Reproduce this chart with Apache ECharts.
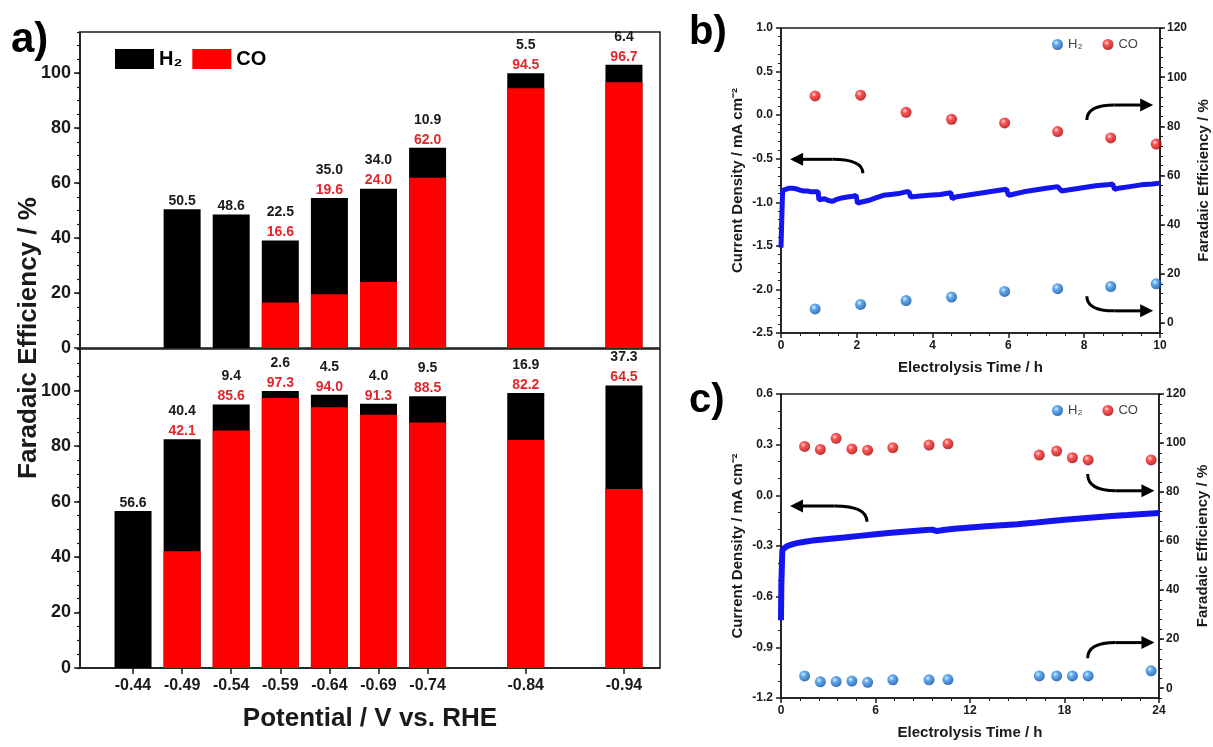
<!DOCTYPE html>
<html><head><meta charset="utf-8">
<script src="https://cdn.jsdelivr.net/npm/echarts@6/dist/echarts.min.js"></script>
<style>html,body{margin:0;padding:0;background:#fff}#c{width:1213px;height:747px}</style>
</head><body><div id="c"></div>
<script>
// ---------- Panel a data ----------
const potentialTicks = [-0.44, -0.49, -0.54, -0.59, -0.64, -0.69, -0.74, -0.84, -0.94];
const topPotential = [-0.49, -0.54, -0.59, -0.64, -0.69, -0.74, -0.84, -0.94];
const topCO = [0, 0, 16.6, 19.6, 24.0, 62.0, 94.5, 96.7];
const topH2 = [50.5, 48.6, 22.5, 35.0, 34.0, 10.9, 5.5, 6.4];
const botPotential = [-0.44, -0.49, -0.54, -0.59, -0.64, -0.69, -0.74, -0.84, -0.94];
const botCO = [0, 42.1, 85.6, 97.3, 94.0, 91.3, 88.5, 82.2, 64.5];
const botH2 = [56.6, 40.4, 9.4, 2.6, 4.5, 4.0, 9.5, 16.9, 37.3];
const feTicksA = [0, 20, 40, 60, 80, 100];
const feTicksBC = [0, 20, 40, 60, 80, 100, 120];

// ---------- Panel b data ----------
const bTime = [0, 0.02, 0.04, 0.06, 0.1, 0.2, 0.3, 0.4, 0.5, 0.6, 0.7, 0.8, 0.9, 0.98, 1.0, 1.05, 1.15, 1.25, 1.35, 1.45, 1.6, 1.75, 1.9, 1.98, 2.02, 2.1, 2.3, 2.5, 2.7, 2.9, 3.1, 3.3, 3.38, 3.42, 3.6, 3.9, 4.2, 4.48, 4.52, 4.6, 4.9, 5.2, 5.5, 5.8, 5.95, 6.0, 6.1, 6.4, 6.7, 7.0, 7.3, 7.35, 7.4, 7.7, 8.0, 8.3, 8.6, 8.75, 8.8, 8.9, 9.2, 9.5, 9.8, 10];
const bCurrent = [-1.52, -1.2, -0.9, -0.86, -0.86, -0.84, -0.84, -0.845, -0.86, -0.87, -0.87, -0.88, -0.88, -0.88, -0.97, -0.95, -0.96, -0.98, -0.99, -0.97, -0.95, -0.94, -0.93, -0.92, -1.01, -1.0, -0.98, -0.95, -0.92, -0.91, -0.9, -0.88, -0.88, -0.94, -0.93, -0.92, -0.91, -0.89, -0.96, -0.94, -0.92, -0.9, -0.88, -0.86, -0.85, -0.92, -0.91, -0.88, -0.86, -0.84, -0.82, -0.81, -0.87, -0.85, -0.83, -0.81, -0.8, -0.79, -0.85, -0.84, -0.82, -0.8, -0.79, -0.78];
const bFETime = [0.9, 2.1, 3.3, 4.5, 5.9, 7.3, 8.7, 9.9];
const bFE_CO = [92.4, 92.7, 85.7, 82.9, 81.4, 77.9, 75.3, 72.8];
const bFE_H2 = [5.8, 7.6, 9.2, 10.6, 12.9, 14.0, 14.9, 16.0];

// ---------- Panel c data ----------
const cTime = [0, 0.02, 0.04, 0.06, 0.08, 0.1, 0.2, 0.4, 0.7, 1, 1.5, 2, 3, 4, 5, 6, 7, 8, 9, 9.6, 9.9, 10.3, 11, 12, 13, 14, 15, 16, 17, 18, 19, 20, 21, 22, 23, 24];
const cCurrent = [-0.74, -0.54, -0.47, -0.40, -0.34, -0.32, -0.31, -0.30, -0.29, -0.283, -0.275, -0.268, -0.258, -0.25, -0.24, -0.23, -0.222, -0.214, -0.207, -0.203, -0.212, -0.205, -0.198, -0.19, -0.183, -0.177, -0.171, -0.163, -0.153, -0.144, -0.137, -0.13, -0.123, -0.117, -0.11, -0.104];
const cFETime = [1.5, 2.5, 3.5, 4.5, 5.5, 7.1, 9.4, 10.6, 16.4, 17.5, 18.5, 19.5, 23.5];
const cFE_CO = [98.6, 97.4, 101.9, 97.6, 97.1, 98.1, 99.2, 99.7, 95.1, 96.7, 94.0, 93.1, 93.1];
const cFE_H2 = [5.0, 2.6, 2.7, 2.9, 2.4, 3.4, 3.4, 3.5, 5.0, 5.0, 5.0, 5.0, 7.1];

// arrows (start point, tip) in [time, current density] of each panel
const bArrows = [[[2.16, -0.668], [0.24, -0.507]], [[8.07, -0.056], [9.82, 0.116]], [[8.07, -2.077], [9.82, -2.246]]];
const cArrows = [[[5.46, -0.156], [0.57, -0.063]], [[19.47, 0.126], [23.71, 0.027]], [[19.47, -0.965], [23.71, -0.872]]];

const FONT = "'Liberation Sans', Arial, sans-serif";
const INK = '#1a1a1a';
const RED = '#ff0000';
const REDTXT = '#e3262b';

const pairs = (xs, ys) => xs.map((x, i) => [x, ys[i]]);
// stacked top of each bar (CO at the bottom, H2 on top of it)
const totals = (a, b) => a.map((v, i) => +(v + b[i]).toFixed(2));

function ball(c0, c1, c2) {
  return { type: 'radial', x: 0.38, y: 0.35, r: 0.65,
    colorStops: [{ offset: 0, color: c0 }, { offset: 0.35, color: c1 }, { offset: 1, color: c2 }] };
}
const blueBall = ball('#d6ecff', '#3a96ec', '#0b4ea6');
const redBall = ball('#ffd8d8', '#ff2b2b', '#a80000');

function barLabel(H, C) {
  return {
    show: true, position: 'top', distance: -2,
    formatter: p => {
      const i = p.dataIndex;
      return C[i] > 0 ? '{k|' + H[i].toFixed(1) + '}\n{r|' + C[i].toFixed(1) + '}' : '{k|' + H[i].toFixed(1) + '}';
    },
    rich: {
      k: { color: INK, fontWeight: 'bold', fontSize: 14, lineHeight: 20, fontFamily: FONT },
      r: { color: REDTXT, fontWeight: 'bold', fontSize: 14, lineHeight: 20, fontFamily: FONT }
    }
  };
}

const axisLineStyle = { color: INK, width: 1.5 };

function feAxisA(grid) {
  return [{
    type: 'value', gridIndex: grid, position: 'left', min: 0, max: 115, interval: 20,
    axisLine: { show: true, onZero: false, lineStyle: axisLineStyle },
    axisTick: { show: true, length: 6, customValues: feTicksA, lineStyle: axisLineStyle },
    axisLabel: { customValues: feTicksA, fontSize: 18, fontWeight: 'bold', color: INK, fontFamily: FONT, margin: 9 },
    splitLine: { show: false }
  }, {
    type: 'value', gridIndex: grid, position: 'left', min: 0, max: 115, interval: 5,
    axisLine: { show: false, onZero: false }, axisLabel: { show: false }, splitLine: { show: false },
    axisTick: { show: true, length: 3, lineStyle: { color: INK, width: 1.2 } }
  }];
}

function feAxisRight(grid, name) {
  return [{
    type: 'value', gridIndex: grid, position: 'right', min: -4, max: 120, interval: 20,
    name: name, nameLocation: 'middle', nameRotate: 90, nameGap: 36,
    nameTextStyle: { fontSize: 15, fontWeight: 'bold', color: INK, fontFamily: FONT },
    axisLine: { show: true, onZero: false, lineStyle: axisLineStyle },
    axisTick: { show: true, length: 5, customValues: feTicksBC, lineStyle: axisLineStyle },
    axisLabel: { customValues: feTicksBC, fontSize: 12, fontWeight: 'bold', color: INK, fontFamily: FONT, margin: 7 },
    splitLine: { show: false }
  }, {
    type: 'value', gridIndex: grid, position: 'right', min: -4, max: 120, interval: 4,
    axisLine: { show: false, onZero: false }, axisLabel: { show: false }, splitLine: { show: false },
    axisTick: { show: true, length: 3, lineStyle: { color: INK, width: 1 } }
  }];
}

function timeAxis(grid, max, interval, minorSplit) {
  return {
    type: 'value', gridIndex: grid, position: 'bottom', min: 0, max: max, interval: interval,
    name: 'Electrolysis Time / h', nameLocation: 'middle', nameGap: 27,
    nameTextStyle: { fontSize: 15, fontWeight: 'bold', color: INK, fontFamily: FONT },
    axisLine: { show: true, onZero: false, lineStyle: axisLineStyle },
    axisTick: { show: true, length: 5, lineStyle: axisLineStyle },
    minorTick: { show: true, splitNumber: minorSplit, length: 3, lineStyle: { color: INK, width: 1 } },
    axisLabel: { fontSize: 12, fontWeight: 'bold', color: INK, fontFamily: FONT, margin: 7 },
    splitLine: { show: false }
  };
}

function currentAxis(grid, min, max, interval, minorSplit, dec) {
  return {
    type: 'value', gridIndex: grid, position: 'left', min: min, max: max, interval: interval,
    name: 'Current Density / mA cm\u207B\u00B2', nameLocation: 'middle', nameRotate: 90, nameGap: 36,
    nameTextStyle: { fontSize: 15, fontWeight: 'bold', color: INK, fontFamily: FONT },
    axisLine: { show: true, onZero: false, lineStyle: axisLineStyle },
    axisTick: { show: true, length: 5, lineStyle: axisLineStyle },
    minorTick: { show: true, splitNumber: minorSplit, length: 3, lineStyle: { color: INK, width: 1 } },
    axisLabel: { fontSize: 12, fontWeight: 'bold', color: INK, fontFamily: FONT, margin: 8, formatter: v => v.toFixed(dec) },
    splitLine: { show: false }
  };
}

const gridStyle = { show: true, borderColor: INK, borderWidth: 1.5, backgroundColor: 'transparent' };

const option = {
  animation: false,
  backgroundColor: '#fff',
  title: [
    { text: 'a)', left: 6, top: 14, textStyle: { fontSize: 42, fontWeight: 'bold', color: '#000', fontFamily: FONT } },
    { text: 'b)', left: 684, top: 8, textStyle: { fontSize: 40, fontWeight: 'bold', color: '#000', fontFamily: FONT } },
    { text: 'c)', left: 684, top: 376, textStyle: { fontSize: 40, fontWeight: 'bold', color: '#000', fontFamily: FONT } }
  ],
  legend: [
    { data: ['H₂', 'CO'], left: 115, top: 49, icon: 'rect', itemWidth: 39, itemHeight: 20, itemGap: 10, padding: 0,
      textStyle: { fontSize: 20, fontWeight: 'bold', color: '#000', fontFamily: FONT } },
    { data: ['H₂ ', 'CO '], left: 1052, top: 38, icon: 'circle', itemWidth: 11, itemHeight: 11, itemGap: 20, padding: 0,
      formatter: n => n.trim(), textStyle: { fontSize: 13, color: '#444', fontFamily: FONT } },
    { data: ['H₂  ', 'CO  '], left: 1052, top: 404, icon: 'circle', itemWidth: 11, itemHeight: 11, itemGap: 20, padding: 0,
      formatter: n => n.trim(), textStyle: { fontSize: 13, color: '#444', fontFamily: FONT } }
  ],
  grid: [
    Object.assign({ left: 80, top: 32, width: 580, height: 316 }, gridStyle),
    Object.assign({ left: 80, top: 349, width: 580, height: 319 }, gridStyle),
    Object.assign({ left: 781, top: 28, width: 379, height: 305 }, gridStyle),
    Object.assign({ left: 781, top: 394, width: 378, height: 304 }, gridStyle)
  ],
  xAxis: [
    { type: 'value', gridIndex: 0, inverse: true, min: -0.9767, max: -0.386,
      axisLine: { show: false, onZero: false }, axisTick: { show: false }, axisLabel: { show: false }, splitLine: { show: false } },
    { type: 'value', gridIndex: 1, inverse: true, min: -0.9767, max: -0.386,
      name: 'Potential / V vs. RHE', nameLocation: 'middle', nameGap: 38,
      nameTextStyle: { fontSize: 26, fontWeight: 'bold', color: INK, fontFamily: FONT },
      axisLine: { show: true, onZero: false, lineStyle: axisLineStyle },
      axisTick: { show: true, length: 6, customValues: potentialTicks, lineStyle: axisLineStyle },
      axisLabel: { customValues: potentialTicks, formatter: v => v.toFixed(2), fontSize: 16, fontWeight: 'bold', color: INK, fontFamily: FONT, margin: 10 },
      splitLine: { show: false } },
    timeAxis(2, 10, 2, 4),
    timeAxis(3, 24, 6, 5)
  ],
  yAxis: [].concat(
    feAxisA(0),                                   // 0,1
    feAxisA(1),                                   // 2,3
    [currentAxis(2, -2.5, 1.0, 0.5, 5, 1)],       // 4
    feAxisRight(2, 'Faradaic Efficiency / %'),     // 5,6
    [currentAxis(3, -1.2, 0.6, 0.3, 3, 1)],       // 7
    feAxisRight(3, 'Faradaic Efficiency / %')      // 8,9
  ),
  graphic: [],
  series: [
    // H2 drawn as the full stacked height (CO + H2), CO drawn over its lower part
    { name: 'H₂', type: 'bar', xAxisIndex: 0, yAxisIndex: 0, barWidth: 37, barGap: '-100%', z: 2,
      itemStyle: { color: '#000' }, label: barLabel(topH2, topCO), data: pairs(topPotential, totals(topCO, topH2)) },
    { name: 'CO', type: 'bar', xAxisIndex: 0, yAxisIndex: 0, barWidth: 37, barGap: '-100%', z: 3,
      itemStyle: { color: RED }, data: pairs(topPotential, topCO) },
    { name: 'H₂', type: 'bar', xAxisIndex: 1, yAxisIndex: 2, barWidth: 37, barGap: '-100%', z: 2,
      itemStyle: { color: '#000' }, label: barLabel(botH2, botCO), data: pairs(botPotential, totals(botCO, botH2)) },
    { name: 'CO', type: 'bar', xAxisIndex: 1, yAxisIndex: 2, barWidth: 37, barGap: '-100%', z: 3,
      itemStyle: { color: RED }, data: pairs(botPotential, botCO) },

    { name: 'current b', type: 'line', xAxisIndex: 2, yAxisIndex: 4, showSymbol: false,
      lineStyle: { color: '#1414ee', width: 5 }, itemStyle: { color: '#1414ee' }, data: pairs(bTime, bCurrent) },
    { name: 'H₂ ', type: 'scatter', xAxisIndex: 2, yAxisIndex: 5, symbolSize: 11,
      itemStyle: { color: blueBall }, data: pairs(bFETime, bFE_H2) },
    { name: 'CO ', type: 'scatter', xAxisIndex: 2, yAxisIndex: 5, symbolSize: 11,
      itemStyle: { color: redBall }, data: pairs(bFETime, bFE_CO) },

    { name: 'current c', type: 'line', xAxisIndex: 3, yAxisIndex: 7, showSymbol: false,
      lineStyle: { color: '#1414ee', width: 6 }, itemStyle: { color: '#1414ee' }, data: pairs(cTime, cCurrent) },
    { name: 'H₂  ', type: 'scatter', xAxisIndex: 3, yAxisIndex: 8, symbolSize: 11,
      itemStyle: { color: blueBall }, data: pairs(cFETime, cFE_H2) },
    { name: 'CO  ', type: 'scatter', xAxisIndex: 3, yAxisIndex: 8, symbolSize: 11,
      itemStyle: { color: redBall }, data: pairs(cFETime, cFE_CO) }
  ]
};

const chart = echarts.init(document.getElementById('c'), null, { renderer: 'canvas' });
chart.setOption(option);

// annotations: arrows anchored to the data coordinates, y-axis title of panel a
function arrowGraphics(defs, xIdx, yIdx) {
  const out = [];
  defs.forEach(d => {
    const s = chart.convertToPixel({ xAxisIndex: xIdx, yAxisIndex: yIdx }, d[0]);
    const t = chart.convertToPixel({ xAxisIndex: xIdx, yAxisIndex: yIdx }, d[1]);
    const dir = t[0] > s[0] ? 1 : -1;
    const mx = s[0] + (t[0] - s[0]) * 0.42;
    const head = 13;
    out.push({ type: 'bezierCurve', silent: true,
      shape: { x1: s[0], y1: s[1], cpx1: s[0], cpy1: t[1], x2: mx, y2: t[1] },
      style: { stroke: '#000', lineWidth: 3, fill: null } });
    out.push({ type: 'line', silent: true,
      shape: { x1: mx, y1: t[1], x2: t[0] - dir * head + dir * 1, y2: t[1] },
      style: { stroke: '#000', lineWidth: 3 } });
    out.push({ type: 'polygon', silent: true,
      shape: { points: [[t[0], t[1]], [t[0] - dir * head, t[1] - 6.5], [t[0] - dir * head, t[1] + 6.5]] },
      style: { fill: '#000' } });
  });
  return out;
}

const g = [].concat(arrowGraphics(bArrows, 2, 4), arrowGraphics(cArrows, 3, 7));
g.push({ type: 'text', x: 29, y: 338, rotation: Math.PI / 2, silent: true,
  style: { text: 'Faradaic Efficiency / %', fontSize: 26, fontWeight: 'bold', fontFamily: FONT, fill: INK, align: 'center', verticalAlign: 'middle' } });
chart.setOption({ graphic: g });
</script></body></html>
